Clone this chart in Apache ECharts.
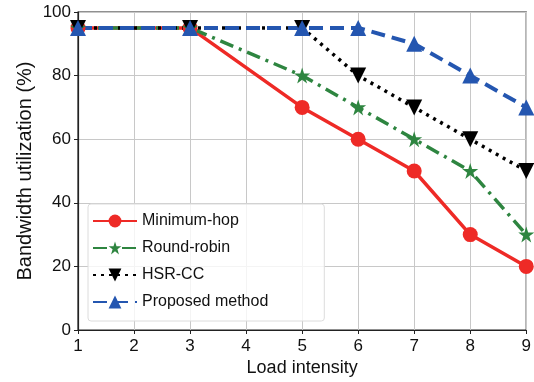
<!DOCTYPE html>
<html>
<head>
<meta charset="utf-8">
<script src="https://cdn.jsdelivr.net/npm/echarts@6/dist/echarts.min.js"></script>
<style>
  html, body { margin: 0; padding: 0; background: #fff; }
  #grafico { width: 534px; height: 382px; }
</style>
</head>
<body>
<div id="grafico"></div>
<script>
// Datos del gráfico
const loadIntensity = [1, 3, 5, 6, 7, 8, 9];
const minimumHop = [95, 95, 70, 60, 50, 30, 20];
const roundRobin = [95, 95, 80, 70, 60, 50, 30];
const hsrCC = [95, 95, 95, 80, 70, 60, 50];
const proposed = [95, 95, 95, 95, 90, 80, 70];
const seriesNames = ['Minimum-hop', 'Round-robin', 'HSR-CC', 'Proposed method'];

const starPath = 'path://M50,0L61.8,35.4L100,35.4L69.1,57.3L80.9,95.1L50,71.9L19.1,95.1L30.9,57.3L0,35.4L38.2,35.4Z';

const chartDom = document.getElementById('grafico');
const myChart = echarts.init(chartDom);

const pares = (ys) => loadIntensity.map((x, i) => [x, ys[i]]);

const option = {
    animation: false,
    textStyle: { fontFamily: 'Liberation Sans' },
    grid: {
        left: 78, right: 5, top: 12, bottom: 51,
        show: true, borderColor: '#222', borderWidth: 1.2
    },
    legend: {
        orient: 'vertical',
        left: 88, top: 204,
        itemWidth: 44, itemHeight: 16, itemGap: 11,
        padding: [9, 56, 11, 4],
        borderColor: '#dcdcdc', borderWidth: 1, borderRadius: 3,
        backgroundColor: 'rgba(255,255,255,0.8)',
        textStyle: { fontSize: 16, lineHeight: 16, color: '#111', padding: [0, 0, 0, 0] },
        data: seriesNames
    },
    xAxis: {
        type: 'value', min: 1, max: 9, interval: 1,
        name: 'Load intensity', nameLocation: 'middle', nameGap: 29,
        nameMoveOverlap: false,
        nameTextStyle: { fontSize: 18, color: '#111' },
        axisLine: { lineStyle: { color: '#222', width: 1.2 } },
        axisTick: { show: true, length: 4, lineStyle: { color: '#222' } },
        axisLabel: { fontSize: 17, color: '#111', margin: 8 },
        splitLine: { show: true, lineStyle: { color: '#c8c8c8', width: 1 } }
    },
    yAxis: {
        type: 'value', min: 0, max: 100, interval: 20,
        name: 'Bandwidth utilization (%)', nameLocation: 'middle', nameGap: 43,
        nameMoveOverlap: false,
        nameTextStyle: { fontSize: 20, color: '#111' },
        axisLine: { show: true, lineStyle: { color: '#222', width: 1.2 } },
        axisTick: { show: true, length: 4, lineStyle: { color: '#222' } },
        axisLabel: { fontSize: 17, color: '#111', margin: 7 },
        splitLine: { show: true, lineStyle: { color: '#c8c8c8', width: 1 } }
    },
    series: [
        {
            name: seriesNames[0], type: 'line', data: pares(minimumHop),
            symbol: 'circle', symbolSize: 15,
            itemStyle: { color: '#ee2a26' },
            lineStyle: { color: '#ee2a26', width: 3.5, type: 'solid' }
        },
        {
            name: seriesNames[1], type: 'line', data: pares(roundRobin),
            symbol: starPath, symbolSize: 16,
            itemStyle: { color: '#2e8540' },
            lineStyle: { color: '#2e8540', width: 3.5, type: [14, 6, 3, 6] }
        },
        {
            name: seriesNames[2], type: 'line', data: pares(hsrCC),
            symbol: 'triangle', symbolRotate: 180, symbolSize: 16,
            itemStyle: { color: '#000' },
            lineStyle: { color: '#000', width: 3.5, type: [3, 5] }
        },
        {
            name: seriesNames[3], type: 'line', data: pares(proposed),
            symbol: 'triangle', symbolSize: 16,
            itemStyle: { color: '#2456b0' },
            lineStyle: { color: '#2456b0', width: 4, type: [14, 7] }
        }
    ]
};

option && myChart.setOption(option);

window.addEventListener('resize', () => {
    myChart.resize();
});
</script>
</body>
</html>
